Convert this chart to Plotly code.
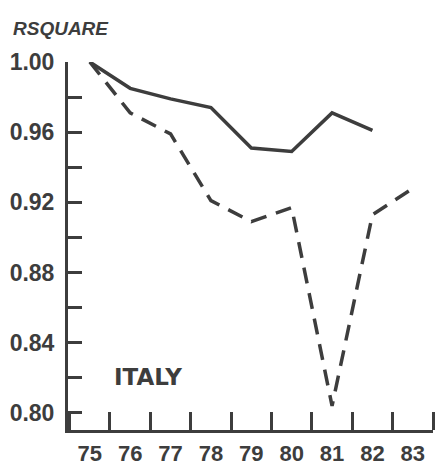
import plotly.graph_objects as go

years = [75, 76, 77, 78, 79, 80, 81, 82, 83]
solid_years = [75, 76, 77, 78, 79, 80, 81, 82]
solid_vals = [1.000, 0.985, 0.979, 0.974, 0.951, 0.949, 0.971, 0.961]
dashed_years = [75, 76, 77, 78, 79, 80, 81, 82, 83]
dashed_vals = [1.000, 0.971, 0.959, 0.921, 0.909, 0.917, 0.804, 0.913, 0.928]
x_labels = ["75", "76", "77", "78", "79", "80", "81", "82", "83"]
y_ticks = [0.80, 0.84, 0.88, 0.92, 0.96, 1.00]
y_labels = ["0.80", "0.84", "0.88", "0.92", "0.96", "1.00"]

ink = "#3d3d3d"
num_font = dict(family="Liberation Sans, Arial, sans-serif",
                size=23, color=ink, weight="bold")
x_font = dict(family="Liberation Sans, Arial, sans-serif",
              size=22, color=ink, weight="bold")

fig = go.Figure()
fig.add_trace(go.Scatter(x=solid_years, y=solid_vals, mode="lines",
                         line=dict(color=ink, width=3.5), cliponaxis=False,
                         showlegend=False))
fig.add_trace(go.Scatter(x=dashed_years, y=dashed_vals, mode="lines",
                         line=dict(color=ink, width=3.5, dash="16px,10px"),
                         cliponaxis=False, showlegend=False))

fig.update_layout(
    width=437, height=467,
    margin=dict(l=68, r=4, t=62, b=37),
    paper_bgcolor="white", plot_bgcolor="white",
    xaxis=dict(range=[74.46, 83.5], showgrid=False, zeroline=False,
               automargin=False,
               showline=True, linecolor=ink, linewidth=3,
               tickvals=years, ticktext=x_labels, ticks="",
               ticklabelstandoff=2, tickfont=x_font,
               minor=dict(tick0=75.5, dtick=1, ticks="inside", ticklen=18,
                          tickwidth=2.5, tickcolor=ink, showgrid=False)),
    yaxis=dict(range=[0.7903, 1.0], showgrid=False, zeroline=False,
               automargin=False,
               showline=True, linecolor=ink, linewidth=3,
               tickvals=y_ticks, ticktext=y_labels, ticks="inside",
               ticklen=14, tickwidth=2.5, tickcolor=ink,
               ticklabelstandoff=6, tickfont=num_font,
               minor=dict(tick0=0.80, dtick=0.02, ticks="inside", ticklen=14,
                          tickwidth=2.5, tickcolor=ink, showgrid=False)),
    annotations=[
        dict(text="RSQUARE", xref="paper", yref="paper", x=-0.155, y=1.09,
             xanchor="left", yanchor="middle", showarrow=False,
             font=dict(family="Liberation Sans, Arial, sans-serif", size=19,
                       color=ink, style="italic", weight="bold")),
        dict(text="ITALY", xref="x", yref="y", x=76.45, y=0.8205,
             xanchor="center", yanchor="middle", showarrow=False,
             font=dict(family="DejaVu Sans, sans-serif", size=23, color=ink,
                       weight="bold")),
    ],
)

fig.write_html("out.html")
